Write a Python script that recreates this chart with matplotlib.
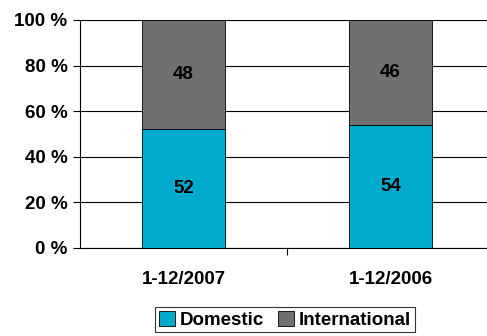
import matplotlib
matplotlib.use("Agg")
import matplotlib.pyplot as plt

plt.rcParams["font.family"] = ["Liberation Sans", "DejaVu Sans"]
plt.rcParams["font.weight"] = "bold"

categories = ["1-12/2007", "1-12/2006"]
domestic = [52, 54]
international = [48, 46]
yticks = [0, 20, 40, 60, 80, 100]

fig = plt.figure(figsize=(4.87, 3.36), dpi=100)
# axes extend a little past the right edge of the picture, as in the original
ax = fig.add_axes([80 / 487, 88 / 336, 414 / 487, 228 / 336])

x = list(range(len(categories)))
ax.bar(x, domestic, width=0.4, color="#00AACC", edgecolor="black", linewidth=0.6,
       label="Domestic", zorder=3)
ax.bar(x, international, width=0.4, bottom=domestic, color="#707070",
       edgecolor="black", linewidth=0.6, label="International", zorder=3)

for xi, d, i in zip(x, domestic, international):
    ax.text(xi, d / 2, str(d), ha="center", va="center", fontsize=13.5,
            fontweight="bold", zorder=4)
    ax.text(xi, d + i / 2, str(i), ha="center", va="center", fontsize=13.5,
            fontweight="bold", zorder=4)

ax.set_xlim(-0.5, 1.5)
ax.set_ylim(0, 100)
ax.set_yticks(yticks)
ax.set_yticklabels([f"{v} %" for v in yticks], fontsize=13.5, fontweight="bold")
ax.yaxis.grid(True, color="black", linewidth=0.8, zorder=0)
ax.tick_params(axis="y", length=5, width=0.8, pad=4)

# category labels sit between the boundary ticks
ax.set_xticks([0.5])
ax.set_xticklabels([""])
ax.tick_params(axis="x", length=5, width=0.8, direction="out")
for xi, c in zip(x, categories):
    ax.text(xi, -14, c, ha="center", va="center", fontsize=13.5,
            fontweight="bold", transform=ax.transData, clip_on=False)

for s in ["top", "right"]:
    ax.spines[s].set_visible(False)
ax.spines["left"].set_linewidth(0.8)
ax.spines["bottom"].set_linewidth(0.8)

leg = fig.legend(loc="upper center", bbox_to_anchor=(285 / 487, 1 - 307 / 336),
                 ncol=2, frameon=True, fancybox=False,
                 handlelength=0.85, handleheight=0.85, handletextpad=0.3,
                 columnspacing=0.7, borderpad=0.2, borderaxespad=0,
                 prop={"weight": "bold", "size": 13.5})
leg.get_frame().set_edgecolor("black")
leg.get_frame().set_linewidth(0.8)

fig.savefig("out.png", dpi=100)
